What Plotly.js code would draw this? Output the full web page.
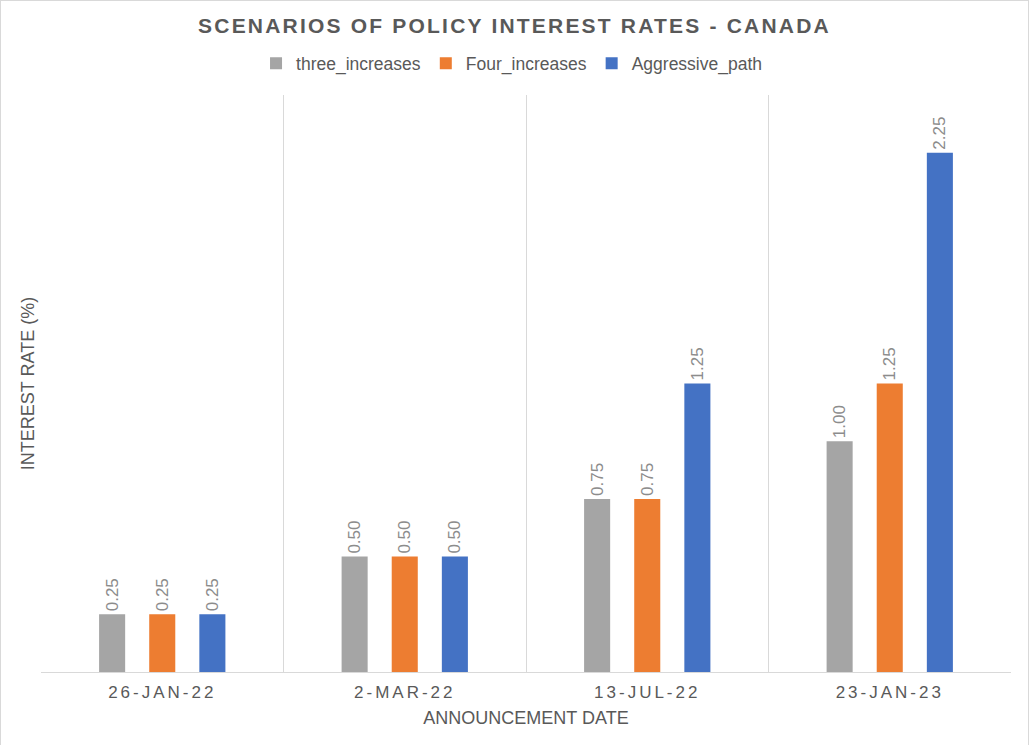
<!DOCTYPE html>
<html>
<head>
<meta charset="utf-8">
<script src="https://cdn.plot.ly/plotly-3.0.1.min.js"></script>
<style>
  html, body { margin: 0; padding: 0; background: #fff; }
  #chart { width: 1029px; height: 746px; }
  #frame { position: absolute; left: 0; top: 0; width: 1027px; height: 744px; border: 1px solid #d9d9d9; border-bottom: none; pointer-events: none; }
  .gtitle { letter-spacing: 2.2px; }
  .xtick text { letter-spacing: 3.0px; }
</style>
</head>
<body>
<div id="chart"></div>
<div id="frame"></div>
<script>
const categories = ["26-JAN-22", "2-MAR-22", "13-JUL-22", "23-JAN-23"];
const threeIncreases = [0.25, 0.50, 0.75, 1.00];
const fourIncreases = [0.25, 0.50, 0.75, 1.25];
const aggressivePath = [0.25, 0.50, 1.25, 2.25];
const seriesNames = ["three_increases", "Four_increases", "Aggressive_path"];
const seriesColors = ["#a5a5a5", "#ed7d31", "#4472c4"];
const seriesValues = [threeIncreases, fourIncreases, aggressivePath];

const traces = seriesValues.map((vals, i) => ({
  type: "bar",
  name: seriesNames[i],
  x: categories,
  y: vals,
  marker: { color: seriesColors[i] },
  text: vals.map(v => v.toFixed(2)),
  textposition: "outside",
  textangle: -90,
  cliponaxis: false,
  constraintext: "none",
  textfont: { family: "Liberation Sans, Arial, sans-serif", size: 17, color: "#8c8c8c" },
  hoverinfo: "skip"
}));

const layout = {
  width: 1029,
  height: 746,
  margin: { l: 41, r: 18, t: 95, b: 74 },
  paper_bgcolor: "#ffffff",
  plot_bgcolor: "#ffffff",
  font: { family: "Liberation Sans, Arial, sans-serif", color: "#595959" },
  title: {
    text: "SCENARIOS OF POLICY INTEREST RATES - CANADA",
    font: { family: "Liberation Sans, Arial, sans-serif", size: 21, color: "#595959", weight: "bold" },
    x: 0.5, xanchor: "center", y: 0.965, yanchor: "middle"
  },
  showlegend: true,
  legend: {
    orientation: "h",
    x: 0.4856, xanchor: "center",
    y: 1.055, yanchor: "middle",
    font: { size: 17.5, color: "#595959" },
    itemwidth: 30,
    tracegroupgap: 0
  },
  barmode: "group",
  bargap: 0.38,
  bargroupgap: 0.48,
  xaxis: {
    type: "category",
    tickson: "boundaries",
    showgrid: true,
    gridcolor: "#d9d9d9",
    gridwidth: 1,
    showline: true,
    linecolor: "#d9d9d9",
    linewidth: 1,
    ticks: "",
    ticklabelstandoff: 5,
    tickfont: { size: 17, color: "#595959" },
    title: { text: "ANNOUNCEMENT DATE", font: { size: 18, color: "#595959" }, standoff: 9 },
    fixedrange: true
  },
  yaxis: {
    range: [0, 2.5],
    showgrid: false,
    zeroline: false,
    showline: false,
    showticklabels: false,
    ticks: "",
    title: { text: "INTEREST RATE (%)", font: { size: 18, color: "#595959" }, standoff: 0 },
    fixedrange: true
  }
};

Plotly.newPlot("chart", traces, layout, { displayModeBar: false, staticPlot: true });
</script>
</body>
</html>
